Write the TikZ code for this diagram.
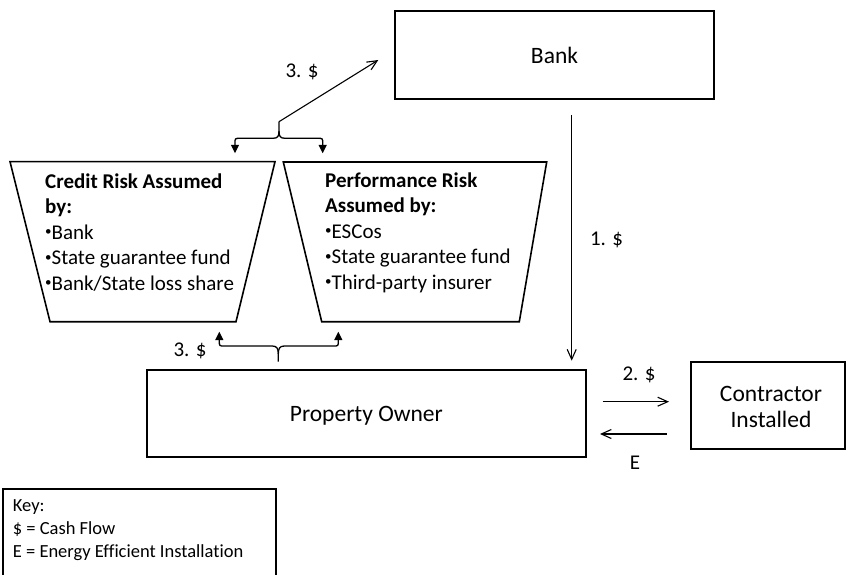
\documentclass[tikz,border=0pt]{standalone}
\usepackage{fontspec}
\setmainfont{Carlito}[Ligatures=NoCommon]
\usetikzlibrary{arrows.meta}

% small raised list bullet
\newcommand\bulletmark{\raisebox{3.5pt}{\fontsize{13}{0}\selectfont•}}

\tikzset{
  box/.style={draw, line width=2pt, inner sep=0pt, text height=16.4pt, text depth=0pt,
              font=\fontsize{23.5}{26.3}\selectfont},
  risk/.style={draw, line width=1.6pt, line join=miter},
  risktext/.style={anchor=base west, align=left, inner sep=0pt,
                   font=\fontsize{21}{25.5}\selectfont},
  flowlabel/.style={anchor=base, inner sep=0pt, font=\fontsize{21}{25}\selectfont},
  flow/.style={line width=1.1pt, -{Straight Barb[length=10pt,width=9pt,line width=1.1pt]}},
  brc/.style={line width=1.3pt, -{Triangle[width=8pt,length=8.5pt]}},
}

\begin{document}
\begin{tikzpicture}[x=1pt, y=-1pt]
\useasboundingbox (0,0) rectangle (846,575);

% main boxes
\node[box, minimum width=319pt, minimum height=88pt] (bank) at (554.5,55) {Bank};
\node[box, minimum width=439.3pt, minimum height=87.3pt] (owner) at (366.35,413.65) {Property Owner};
\node[draw, line width=2pt, inner sep=0pt, minimum width=153.8pt, minimum height=87.6pt]
  (contractor) at (767.6,405.5) {};
% multi-line text: the base anchor sits on the last line
\node[anchor=base, align=center, inner sep=0pt, font=\fontsize{23.5}{26.3}\selectfont]
  (contractortext) at (771,427.3) {Contractor\\Installed};

% risk buckets
\draw[risk] (10,161.7) -- (275,161.7) -- (236,321.7) -- (50,321.7) -- cycle;
\draw[risk] (283.3,162) -- (546.7,162) -- (519.3,321.7) -- (321.7,321.7) -- cycle;
\node[risktext] (credit) at (45,290)
  {\textbf{Credit Risk Assumed}\\\textbf{by:}\\\bulletmark Bank\\\bulletmark State guarantee fund\\\bulletmark Bank/State loss share};
\node[risktext] (performance) at (325,289.3)
  {\textbf{Performance Risk}\\\textbf{Assumed by:}\\\bulletmark ESCos\\\bulletmark State guarantee fund\\\bulletmark Third-party insurer};

% connector end points
\coordinate (bankout) at (571.7,115);
\coordinate (ownerin) at (571.7,360.7);
\coordinate (payout) at (602.7,401.7);
\coordinate (payin) at (669,401.7);
\coordinate (effout) at (666.7,434);
\coordinate (effin) at (600,434);
\coordinate (topcusp) at (279,121.7);
\coordinate (banktip) at (378.3,60);
\coordinate (credittop) at (235,153.3);
\coordinate (perftop) at (322.7,153.3);
\coordinate (botcusp) at (278.3,361.7);
\coordinate (creditbot) at (219.3,331.7);
\coordinate (perfbot) at (338.3,331.7);

% cash and installation flows
\draw[flow] (bankout) -- (ownerin);
\draw[flow] (payout) -- (payin);
\draw[flow] (effout) -- (effin);
\draw[flow] (topcusp) -- (banktip);

% split brace above the buckets
\draw[brc] (topcusp) -- (279,131) .. controls (279,136) and (278,138.3) .. (273,138.3)
  -- (240,138.3) .. controls (235,138.3) .. (235,143.3) -- (credittop);
\draw[brc] (279,131) .. controls (279,136) and (280,138.3) .. (285,138.3)
  -- (317.7,138.3) .. controls (322.7,138.3) .. (322.7,143.3) -- (perftop);

% split brace below the buckets
\draw[brc] (botcusp) -- (278.3,354) .. controls (278.3,349) and (277.3,346) .. (272.3,346)
  -- (224.3,346) .. controls (219.3,346) .. (219.3,341) -- (creditbot);
\draw[brc] (278.3,354) .. controls (278.3,349) and (279.3,346) .. (284.3,346)
  -- (333.3,346) .. controls (338.3,346) .. (338.3,341) -- (perfbot);

% flow labels
\node[flowlabel] (lbltop) at (302,77.7) {3. \$};
\node[flowlabel] (lblbot) at (190,356) {3. \$};
\node[flowlabel] (lblone) at (606.5,245.7) {1. \$};
\node[flowlabel] (lbltwo) at (639,380.7) {2. \$};
\node[flowlabel] (lble) at (635,469) {E};

% key
\draw[line width=2.2pt] (3.3,580) -- (3.3,489.3) -- (275.7,489.3) -- (275.7,580);
\node[anchor=base west, align=left, inner sep=0pt, font=\fontsize{18.5}{22.8}\selectfont]
  (key) at (12.7,557.3) {Key:\\\$ = Cash Flow\\E = Energy Efficient Installation};
\end{tikzpicture}
\end{document}
